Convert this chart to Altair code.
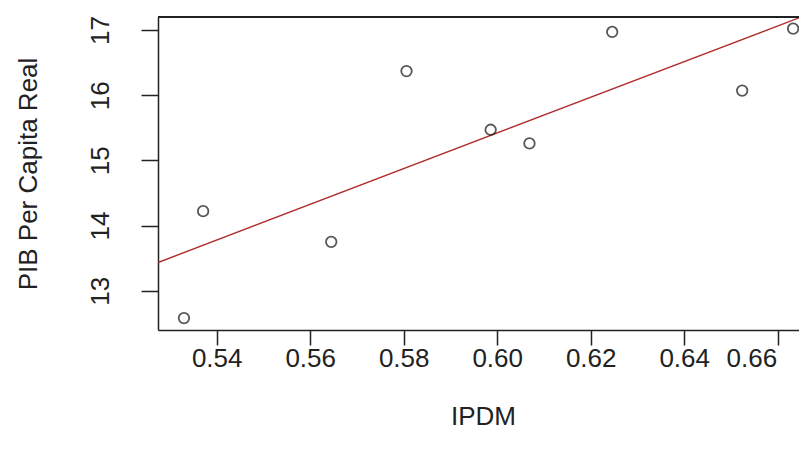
import altair as alt
import pandas as pd

# Data
ipdm = [0.5330, 0.5371, 0.5645, 0.5806, 0.5986, 0.6069, 0.6246, 0.6524, 0.6633]
pib = [12.58, 14.22, 13.75, 16.37, 15.47, 15.26, 16.97, 16.07, 17.02]
x_ticks = [0.54, 0.56, 0.58, 0.60, 0.62, 0.64, 0.66]
y_ticks = [13, 14, 15, 16, 17]
x_domain = [0.527444, 0.664555]
y_domain = [12.3972, 17.1994]

df = pd.DataFrame({"IPDM": ipdm, "PIB": pib})

W, H = 641, 313
FONT = "Liberation Sans"
FS = 26

x_enc = alt.X(
    "IPDM:Q",
    scale=alt.Scale(domain=x_domain, nice=False, zero=False),
    axis=alt.Axis(
        title="IPDM", values=x_ticks, format=".2f", grid=False,
        tickSize=15, tickColor="#222", tickWidth=1.5,
        domainColor="#222", domainWidth=1.5,
        labelFont=FONT, labelFontSize=FS, labelColor="#222", labelPadding=0,
        labelFlush=30, labelFlushOffset=-1, labelOverlap=False,
        titleFont=FONT, titleFontSize=FS, titleFontWeight="normal", titleColor="#222",
        titleX=325, titleY=86, titleBaseline="middle",
    ),
)
y_enc = alt.Y(
    "PIB:Q",
    scale=alt.Scale(domain=y_domain, nice=False, zero=False),
    axis=alt.Axis(
        title="PIB Per Capita Real", values=y_ticks, format="d", grid=False,
        tickSize=17, tickColor="#222", tickWidth=1.5,
        domainColor="#222", domainWidth=1.5,
        labelFont=FONT, labelFontSize=FS, labelColor="#222",
        labelAngle=270, labelAlign="center", labelBaseline="middle", labelPadding=41,
        labelFlush=False, labelOverlap=False,
        titleFont=FONT, titleFontSize=FS, titleFontWeight="normal", titleColor="#222",
        titleAngle=270, titleX=-130, titleY=H / 2, titleAlign="center", titleBaseline="middle",
    ),
)

base = alt.Chart(df)

points = base.mark_point(
    shape="circle", filled=False, size=110, stroke="#111", strokeWidth=1.8
).encode(x=x_enc, y=y_enc)

fit = base.transform_regression(
    "IPDM", "PIB", extent=x_domain
).mark_line(color="#b02a2a", strokeWidth=1.4, clip=True).encode(
    x=alt.X("IPDM:Q"), y=alt.Y("PIB:Q")
)

top_border = alt.Chart(df).mark_rule(color="#222", strokeWidth=1.5).encode(
    x=alt.value(0), x2=alt.value(W), y=alt.value(0)
)

chart = alt.layer(fit, points, top_border).properties(
    width=W, height=H,
    autosize=alt.AutoSizeParams(type="none"),
    padding={"left": 150, "top": 9, "right": 0, "bottom": 108},
    background="white",
).configure_view(stroke=None)

chart.save("out.html", embed_options={"renderer": "svg", "actions": False})
